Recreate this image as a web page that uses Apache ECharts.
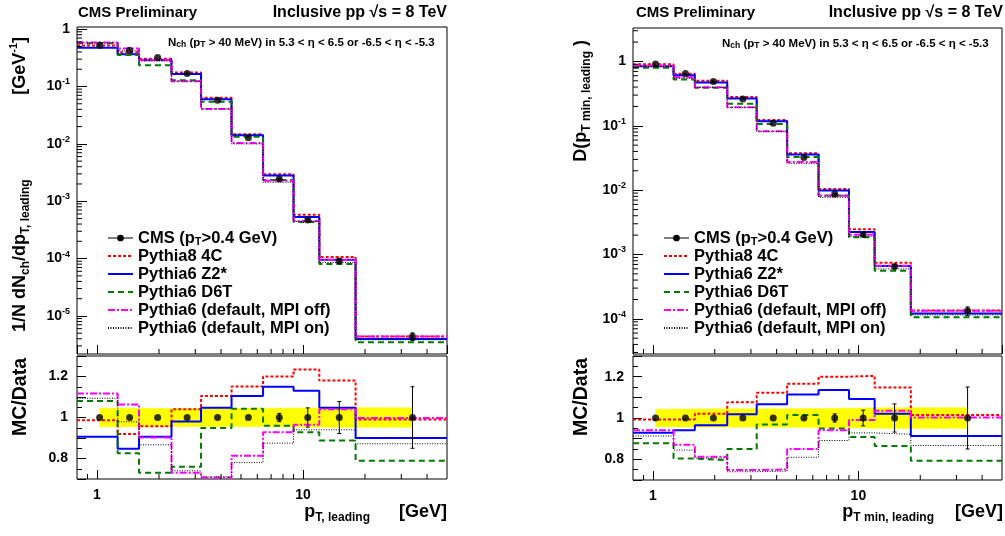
<!DOCTYPE html>
<html>
<head>
<meta charset="utf-8">
<script src="https://cdn.jsdelivr.net/npm/echarts@6/dist/echarts.min.js"></script>
<style>
html, body { margin: 0; padding: 0; background: #fff; }
#chart { width: 1005px; height: 536px; }
</style>
</head>
<body>
<div id="chart"></div>
<script>
// bin edges and data point positions [GeV], same for both plots
var binEdges = [0.8, 1.26, 1.6, 2.3, 3.2, 4.5, 6.4, 9.0, 12.0, 18.0, 50];
var dataX = [1.03, 1.44, 1.97, 2.74, 3.85, 5.43, 7.67, 10.55, 15.0, 34.0];

// left plot: 1/N dNch/dpT,leading
var leftData = [0.525, 0.43, 0.32, 0.168, 0.0574, 0.0128, 0.00245, 0.00047, 0.000091, 0.0000044];
var leftDataErr = [0, 0, 0, 0, 0, 0, 0.00005, 0.000022, 0.0000071, 0.00000066];
var leftP8 = [0.518, 0.395, 0.306, 0.175, 0.0634, 0.0147, 0.00294, 0.00058, 0.000107, 0.00000436];
var leftZ2 = [0.476, 0.364, 0.290, 0.165, 0.0602, 0.0141, 0.00282, 0.000531, 0.0000954, 0.00000396];
var leftD6T = [0.568, 0.355, 0.234, 0.128, 0.0545, 0.01335, 0.00235, 0.000436, 0.0000808, 0.00000347];
var leftMpiOff = [0.586, 0.458, 0.289, 0.123, 0.0406, 0.0104, 0.00227, 0.000454, 0.0000946, 0.00000439];
var leftMpiOn = [0.574, 0.421, 0.277, 0.124, 0.0408, 0.00998, 0.00214, 0.000442, 0.0000855, 0.00000384];

// left ratio MC/Data
var leftRatioData = [1, 1, 1, 1, 1, 1, 1, 1, 1, 1];
var leftRatioErr = [0, 0, 0, 0, 0, 0, 0.02, 0.047, 0.078, 0.15];
var leftBandLo = [0.955, 0.955, 0.956, 0.956, 0.956, 0.956, 0.955, 0.954, 0.952, 0.953];
var leftBandHi = [1.045, 1.045, 1.044, 1.044, 1.044, 1.044, 1.045, 1.046, 1.048, 1.047];
var leftP8R = [0.987, 0.919, 0.957, 1.04, 1.105, 1.151, 1.2, 1.234, 1.18, 0.99];
var leftZ2R = [0.906, 0.847, 0.906, 0.98, 1.048, 1.105, 1.15, 1.13, 1.048, 0.9];
var leftD6TR = [1.081, 0.826, 0.73, 0.76, 0.949, 1.043, 0.96, 0.928, 0.888, 0.789];
var leftMpiOffR = [1.117, 1.064, 0.903, 0.73, 0.707, 0.814, 0.928, 0.965, 1.04, 0.997];
var leftMpiOnR = [1.094, 0.979, 0.867, 0.74, 0.71, 0.78, 0.875, 0.94, 0.94, 0.872];

// right plot: D(pT min,leading)
var rightData = [0.91, 0.65, 0.489, 0.26, 0.110, 0.0321, 0.00867, 0.00204, 0.000648, 0.000133];
var rightDataErr = [0, 0, 0, 0, 0, 0, 0.00017, 0.000078, 0.000044, 0.00002];
var rightP8 = [0.904, 0.645, 0.499, 0.280, 0.1234, 0.0374, 0.0104, 0.00246, 0.000743, 0.000135];
var rightZ2 = [0.845, 0.612, 0.472, 0.265, 0.1174, 0.0358, 0.00984, 0.00223, 0.000661, 0.000121];
var rightD6T = [0.799, 0.523, 0.389, 0.221, 0.1066, 0.0326, 0.00823, 0.00185, 0.000561, 0.000106];
var rightMpiOff = [0.856, 0.566, 0.397, 0.1945, 0.0826, 0.0273, 0.00816, 0.00202, 0.000671, 0.000133];
var rightMpiOn = [0.831, 0.549, 0.394, 0.1924, 0.0817, 0.0260, 0.00772, 0.00189, 0.000597, 0.000115];

// right ratio MC/Data
var rightRatioData = [1, 1, 1, 1, 1, 1, 1, 1, 1, 1];
var rightRatioErr = [0, 0, 0, 0, 0, 0, 0.02, 0.038, 0.068, 0.15];
var rightBandLo = [0.958, 0.957, 0.956, 0.956, 0.956, 0.955, 0.954, 0.952, 0.95, 0.95];
var rightBandHi = [1.042, 1.043, 1.044, 1.044, 1.044, 1.045, 1.046, 1.048, 1.05, 1.05];
var rightP8R = [0.993, 0.993, 1.02, 1.076, 1.122, 1.166, 1.2, 1.204, 1.147, 1.015];
var rightZ2R = [0.929, 0.941, 0.965, 1.018, 1.067, 1.114, 1.135, 1.092, 1.02, 0.913];
var rightD6TR = [0.878, 0.804, 0.796, 0.85, 0.969, 1.015, 0.949, 0.908, 0.865, 0.793];
var rightMpiOffR = [0.941, 0.87, 0.812, 0.748, 0.751, 0.85, 0.941, 0.99, 1.035, 1.003];
var rightMpiOnR = [0.913, 0.845, 0.806, 0.74, 0.743, 0.81, 0.891, 0.928, 0.921, 0.867];

// ticks
var xMinorTicks = [0.9, 2, 3, 4, 5, 6, 7, 8, 9, 20, 30, 40];
var logMantissas = [2, 3, 4, 5, 6, 7, 8, 9];
var logDecades = [-6, -5, -4, -3, -2, -1, 0];
var ratioTickLabels = [0.8, 1, 1.2];

var dataName = 'CMS (pT>0.4 GeV)';
var mcNames = ['Pythia8 4C', 'Pythia6 Z2*', 'Pythia6 D6T', 'Pythia6 (default, MPI off)', 'Pythia6 (default, MPI on)'];
var mcStyles = [
  { color: '#ff0000', width: 2, type: [3, 2] },
  { color: '#0000ff', width: 2, type: 'solid' },
  { color: '#007a00', width: 2, type: [6, 4] },
  { color: '#ff00ff', width: 2, type: [7, 2, 2, 2] },
  { color: '#000000', width: 1, type: [1, 1.5] }
];

var FONT = '"Liberation Sans", Arial, Helvetica, sans-serif';
var xRange = [0.8, 50];
var leftYRange = [2.17e-6, 1.09];
var rightYRange = [2.84e-5, 3.31];
var ratioRange = [0.7, 1.3];

function stepData(values) {
  var pts = [];
  for (var i = 0; i < values.length; i++) pts.push([binEdges[i], values[i]]);
  pts.push([binEdges[binEdges.length - 1], values[values.length - 1]]);
  return pts;
}

// rich style for echarts labels
function er(size, va, lh) {
  var s = { fontSize: size, fontWeight: 'bold', fontFamily: FONT, color: '#000', lineHeight: lh || size };
  if (va) s.verticalAlign = va;
  return s;
}
// rich style for graphic texts
function gr(size, va, lh) {
  var s = { fontSize: size, fontWeight: 'bold', fontFamily: FONT, fill: '#000', lineHeight: lh || size };
  if (va) s.verticalAlign = va;
  return s;
}

function tickSeries(grid, points, dir, len) {
  return {
    type: 'custom', xAxisIndex: grid, yAxisIndex: grid, silent: true, z: 5,
    data: points,
    renderItem: function (params, api) {
      var p = api.coord([api.value(0), api.value(1)]);
      var shape = dir === 'x'
        ? { x1: p[0], y1: p[1], x2: p[0], y2: p[1] - len }
        : { x1: p[0], y1: p[1], x2: p[0] + len, y2: p[1] };
      return { type: 'line', shape: shape, style: { stroke: '#000', lineWidth: 1 } };
    }
  };
}

function errorSeries(grid, ys, errs) {
  var pts = [];
  for (var i = 0; i < ys.length; i++) if (errs[i] > 0) pts.push([dataX[i], ys[i] - errs[i], ys[i] + errs[i]]);
  return {
    type: 'custom', xAxisIndex: grid, yAxisIndex: grid, silent: true, z: 4,
    data: pts, encode: { x: 0, y: [1, 2] },
    renderItem: function (params, api) {
      var lo = api.coord([api.value(0), api.value(1)]);
      var hi = api.coord([api.value(0), api.value(2)]);
      var st = { stroke: '#000', lineWidth: 1 };
      return { type: 'group', children: [
        { type: 'line', shape: { x1: lo[0], y1: lo[1], x2: hi[0], y2: hi[1] }, style: st },
        { type: 'line', shape: { x1: lo[0] - 2, y1: lo[1], x2: lo[0] + 2, y2: lo[1] }, style: st },
        { type: 'line', shape: { x1: hi[0] - 2, y1: hi[1], x2: hi[0] + 2, y2: hi[1] }, style: st }
      ] };
    }
  };
}

function bandSeries(grid, lo, hi) {
  var pts = dataX.map(function (x, i) { return [x, lo[i], hi[i]]; });
  return {
    type: 'custom', xAxisIndex: grid, yAxisIndex: grid, silent: true, z: 1,
    data: pts, encode: { x: 0, y: [1, 2] },
    renderItem: function (params, api) {
      var i = params.dataIndex;
      if (i >= pts.length - 1) return null;
      var n = pts[i + 1];
      var poly = [
        api.coord([pts[i][0], pts[i][2]]), api.coord([n[0], n[2]]),
        api.coord([n[0], n[1]]), api.coord([pts[i][0], pts[i][1]])
      ];
      return { type: 'polygon', shape: { points: poly }, style: { fill: '#ffff00', stroke: '#ffff00', lineWidth: 0.6 } };
    }
  };
}

function mcSeries(grid, arrays) {
  return arrays.map(function (vals, k) {
    return {
      type: 'line', name: mcNames[k], xAxisIndex: grid, yAxisIndex: grid,
      step: 'end', symbol: 'none', silent: true, z: 2,
      data: stepData(vals),
      lineStyle: { color: mcStyles[k].color, width: mcStyles[k].width, type: mcStyles[k].type },
      itemStyle: { color: mcStyles[k].color }
    };
  });
}

function pointSeries(grid, ys) {
  return {
    type: 'scatter', name: dataName, xAxisIndex: grid, yAxisIndex: grid, z: 6,
    symbol: 'circle', symbolSize: 7, itemStyle: { color: '#000' }, silent: true,
    data: dataX.map(function (x, i) { return [x, ys[i]]; })
  };
}

function logMinor(range) {
  var out = [];
  logDecades.forEach(function (d) {
    logMantissas.forEach(function (m) {
      var v = m * Math.pow(10, d);
      if (v > range[0] && v < range[1]) out.push(v);
    });
  });
  return out;
}

function xTicks(yMin) { return xMinorTicks.map(function (v) { return [v, yMin]; }); }
function yTicks(range) { return logMinor(range).map(function (v) { return [xRange[0], v]; }); }

function logLabel(v) {
  var e = Math.round(Math.log10(v));
  if (e === 0) return '{b|1}';
  return '{b|10}{s|' + e + '}';
}

function xAxisDef(grid, showLabel) {
  return {
    type: 'log', logBase: 10, gridIndex: grid, min: xRange[0], max: xRange[1], splitNumber: 2,
    axisLine: { show: false }, splitLine: { show: false },
    axisTick: { show: true, inside: true, length: 9, lineStyle: { color: '#000' } },
    axisLabel: { show: showLabel, margin: 9, showMinLabel: false, showMaxLabel: false,
      fontSize: 14, fontWeight: 'bold', fontFamily: FONT, color: '#000' }
  };
}

function yLogDef(grid, range) {
  return {
    type: 'log', logBase: 10, gridIndex: grid, min: range[0], max: range[1], splitNumber: 5,
    axisLine: { show: false }, splitLine: { show: false },
    axisTick: { show: true, inside: true, length: 10, lineStyle: { color: '#000' } },
    axisLabel: { margin: 7, showMinLabel: false, showMaxLabel: false, formatter: logLabel,
      rich: { b: er(14, null, 18), s: er(9, 'top', 9) } }
  };
}

function yRatioDef(grid) {
  return {
    type: 'value', gridIndex: grid, min: ratioRange[0], max: ratioRange[1], interval: 0.1,
    axisLine: { show: false }, splitLine: { show: false },
    axisTick: { show: true, inside: true, length: 9, lineStyle: { color: '#000' } },
    minorTick: { show: true, splitNumber: 2, length: 5, lineStyle: { color: '#000' } },
    axisLabel: { margin: 9, showMinLabel: false, showMaxLabel: false,
      fontSize: 14, fontWeight: 'bold', fontFamily: FONT, color: '#000',
      formatter: function (v) {
        var r = Math.round(v * 10) / 10;
        return ratioTickLabels.indexOf(r) >= 0 ? String(r) : '';
      } }
  };
}

function legendDef(left) {
  var items = [{ name: dataName, icon: 'path://M0,3.5L26,3.5L26,4.5L0,4.5Z M9.5,4A3.5,3.5 0 1 1 16.5,4A3.5,3.5 0 1 1 9.5,4Z',
    itemStyle: { color: '#000', opacity: 1 } }];
  mcNames.forEach(function (n) { items.push({ name: n, itemStyle: { opacity: 0 } }); });
  return {
    left: left, top: 224, orient: 'vertical', itemWidth: 25, itemHeight: 12, itemGap: 0,
    selectedMode: false, symbolKeepAspect: true,
    data: items,
    formatter: function (n) { return n === dataName ? 'CMS (p{s|T}>0.4 GeV)' : n; },
    textStyle: { fontSize: 16.5, fontWeight: 'bold', fontFamily: FONT, color: '#000', lineHeight: 18,
      rich: { s: er(11, 'bottom', 11) } }
  };
}

function gtext(x, y, text, size, align, rich, rotation) {
  return {
    type: 'text', x: x, y: y, rotation: rotation || 0, silent: true, z: 100,
    style: { text: text, fontSize: size, fontWeight: 'bold', fontFamily: FONT, fill: '#000',
      align: align, verticalAlign: 'middle', rich: rich || {} }
  };
}

var nchText = 'N{sub|ch} (p{sub|T} > 40 MeV) in 5.3 < η < 6.5 or -6.5 < η < -5.3';
var nchRich = { sub: gr(8.5, 'bottom', 8.5), b: gr(11.5, null, 14) };
var titleRich = { b: gr(18, null, 24), sub: gr(12, 'bottom', 12), sup: gr(11, 'top', 11) };
var ratioTitleRich = { b: gr(19.5, null, 24) };

var series = [];
// left top
series = series.concat(mcSeries(0, [leftP8, leftZ2, leftD6T, leftMpiOff, leftMpiOn]));
series.push(pointSeries(0, leftData));
series.push(errorSeries(0, leftData, leftDataErr));
series.push(tickSeries(0, xTicks(leftYRange[0]), 'x', 5));
series.push(tickSeries(0, yTicks(leftYRange), 'y', 5));
// left ratio
series.push(bandSeries(1, leftBandLo, leftBandHi));
series = series.concat(mcSeries(1, [leftP8R, leftZ2R, leftD6TR, leftMpiOffR, leftMpiOnR]));
series.push(pointSeries(1, leftRatioData));
series.push(errorSeries(1, leftRatioData, leftRatioErr));
series.push(tickSeries(1, xTicks(ratioRange[0]), 'x', 5));
// right top
series = series.concat(mcSeries(2, [rightP8, rightZ2, rightD6T, rightMpiOff, rightMpiOn]));
series.push(pointSeries(2, rightData));
series.push(errorSeries(2, rightData, rightDataErr));
series.push(tickSeries(2, xTicks(rightYRange[0]), 'x', 5));
series.push(tickSeries(2, yTicks(rightYRange), 'y', 5));
// right ratio
series.push(bandSeries(3, rightBandLo, rightBandHi));
series = series.concat(mcSeries(3, [rightP8R, rightZ2R, rightD6TR, rightMpiOffR, rightMpiOnR]));
series.push(pointSeries(3, rightRatioData));
series.push(errorSeries(3, rightRatioData, rightRatioErr));
series.push(tickSeries(3, xTicks(ratioRange[0]), 'x', 5));

var chart = echarts.init(document.getElementById('chart'));
var gridStyle = { show: true, borderColor: '#000', borderWidth: 1, backgroundColor: 'transparent' };
chart.setOption({
  animation: false,
  backgroundColor: '#fff',
  grid: [
    Object.assign({ left: 77, top: 27, width: 370, height: 327 }, gridStyle),
    Object.assign({ left: 77, top: 356, width: 370, height: 123 }, gridStyle),
    Object.assign({ left: 633, top: 28, width: 369, height: 326 }, gridStyle),
    Object.assign({ left: 633, top: 356, width: 369, height: 124 }, gridStyle)
  ],
  xAxis: [xAxisDef(0, false), xAxisDef(1, true), xAxisDef(2, false), xAxisDef(3, true)],
  yAxis: [yLogDef(0, leftYRange), yRatioDef(1), yLogDef(2, rightYRange), yRatioDef(3)],
  legend: [legendDef(102), legendDef(658)],
  series: series,
  graphic: [
    gtext(78, 13, 'CMS Preliminary', 15, 'left'),
    gtext(447, 13, 'Inclusive pp √s = 8 TeV', 16, 'right'),
    gtext(636, 13, 'CMS Preliminary', 15, 'left'),
    gtext(1003, 13, 'Inclusive pp √s = 8 TeV', 16, 'right'),
    gtext(168, 43, nchText, 11.5, 'left', nchRich),
    gtext(722, 44, nchText, 11.5, 'left', nchRich),
    // y titles (rotated, reading upwards)
    gtext(20, 37, '{b|[GeV}{sup|-1}{b|]}', 18, 'right', titleRich, Math.PI / 2),
    gtext(20, 332, '{b|1/N dN}{sub|ch}{b|/dp}{sub|T, leading}', 18, 'left', titleRich, Math.PI / 2),
    gtext(581, 40, '{b|D(p}{sub|T min, leading}{b| )}', 18, 'right', titleRich, Math.PI / 2),
    gtext(21, 358, '{b|MC/Data}', 19.5, 'right', ratioTitleRich, Math.PI / 2),
    gtext(582, 358, '{b|MC/Data}', 19.5, 'right', ratioTitleRich, Math.PI / 2),
    // x titles
    gtext(370, 512, '{b|p}{sub|T, leading}', 18, 'right', titleRich),
    gtext(447, 512, '{b|[GeV]}', 18, 'right', titleRich),
    gtext(934, 512, '{b|p}{sub|T min, leading}', 18, 'right', titleRich),
    gtext(1003, 512, '{b|[GeV]}', 18, 'right', titleRich)
  ]
});
</script>
</body>
</html>
